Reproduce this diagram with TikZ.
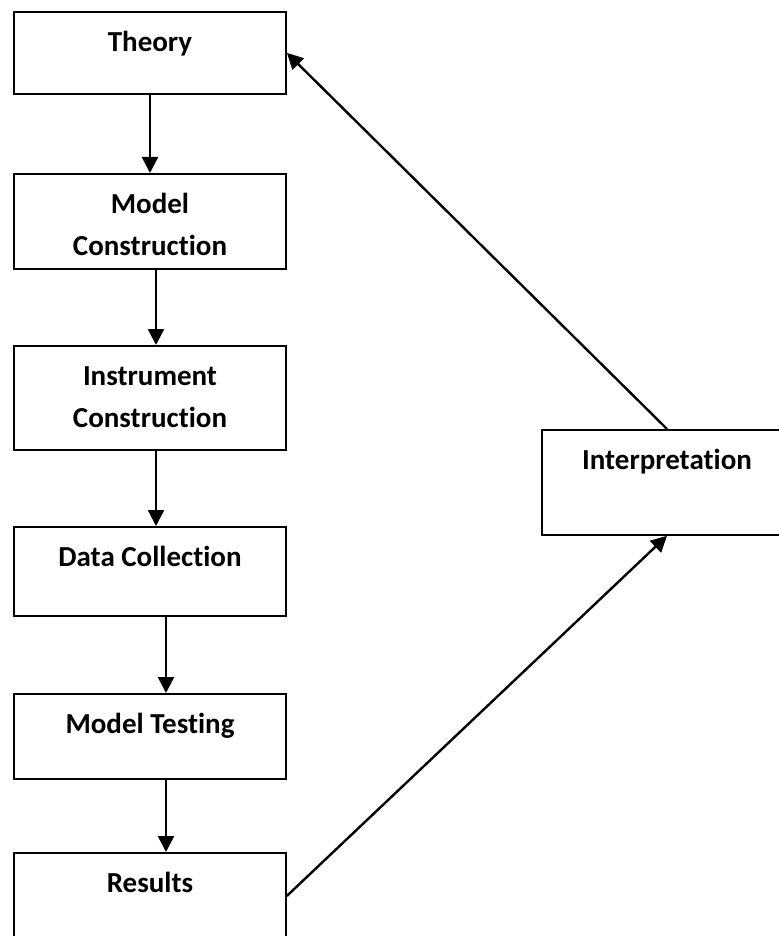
\documentclass[tikz,border=0pt]{standalone}
\usepackage{fontspec}
\setmainfont{Carlito}[Ligatures=NoCommon]
\usepackage{tikz}
\usetikzlibrary{arrows.meta}

\begin{document}
\begin{tikzpicture}[x=0.5pt, y=-0.5pt, >={Triangle[length=8pt,width=8pt]},
    box/.style={draw, line width=0.9pt, minimum width=136pt, inner sep=0pt, text height=20pt,
        align=center, anchor=north, font=\fontsize{14.5}{21}\selectfont\bfseries},
    twoline/.style={box, text height=41pt},
    link/.style={->, line width=1.2pt}]
    \useasboundingbox (0,0) rectangle (779,936);
    \node[box, text depth=21pt] (theory) at (150,11) {Theory};
    \node[twoline, text depth=6.5pt] (modelcon) at (150,173) {Model\\Construction};
    \node[twoline, text depth=11pt] (instrcon) at (150,345) {Instrument\\Construction};
    \node[box, text depth=24.5pt] (datacol) at (150,526) {Data Collection};
    \node[box, text depth=22.5pt] (modeltest) at (150,693) {Model Testing};
    \node[box, text depth=23pt] (results) at (150,852) {Results};
    \node[box, text depth=32.5pt, minimum width=125pt] (interp) at (667,429) {Interpretation};

    \draw[link](theory.south)--(modelcon.north);
    \draw[link]([xshift=3pt]modelcon.south)--([xshift=3pt]instrcon.north);
    \draw[link]([xshift=3pt]instrcon.south)--([xshift=3pt]datacol.north);
    \draw[link]([xshift=8pt]datacol.south)--([xshift=8pt]modeltest.north);
    \draw[link]([xshift=8pt]modeltest.south)--([xshift=8pt]results.north);
    \draw[link](results.east)--(interp.south);
    \draw[link](interp.north)--(theory.east);

\end{tikzpicture}
\end{document}
